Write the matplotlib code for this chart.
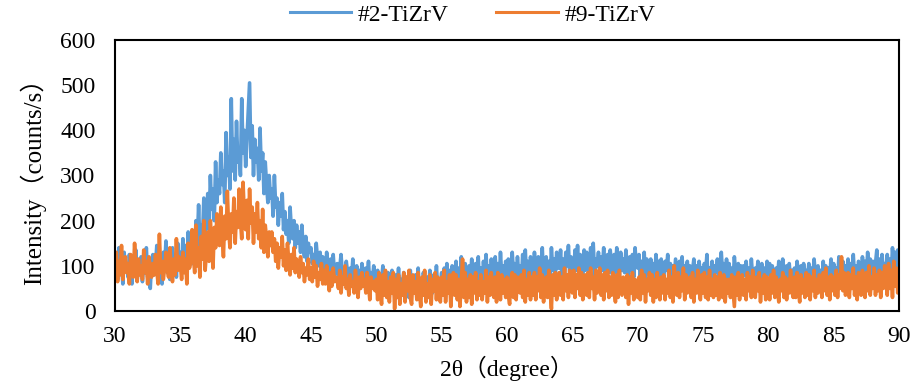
import numpy as np
import matplotlib
matplotlib.use("Agg")
import matplotlib.pyplot as plt
from matplotlib import font_manager

# 2-theta grid (0.1 degree step, 30..90)
two_theta_start = 30.0
two_theta_step = 0.1

series_names = ["#2-TiZrV", "#9-TiZrV"]

intensity_2 = [
    95,120,70,140,85,110,60,130,90,105,
    75,125,95,60,115,80,135,70,100,90,
    120,65,105,85,140,75,95,50,110,125,
    80,100,145,70,115,90,60,130,95,155,
    85,120,70,110,140,90,125,75,150,100,
    130,95,160,110,145,85,175,120,150,105,
    170,130,200,150,235,140,190,165,250,175,
    210,260,180,300,225,270,200,330,240,290,
    260,350,280,310,240,395,300,340,270,470,
    310,380,290,420,330,360,300,470,350,400,
    320,380,440,505,340,410,300,380,330,360,
    290,405,310,350,260,330,280,240,300,250,
    270,210,300,230,250,190,240,210,260,180,
    220,170,200,150,230,180,160,200,140,190,
    150,175,130,190,140,120,165,110,150,130,
    140,105,125,95,150,115,100,130,90,120,
    110,85,130,95,75,115,90,125,80,100,
    105,70,95,125,80,90,60,110,85,75,
    95,70,115,80,60,100,75,90,55,105,
    80,60,95,70,110,55,85,65,100,75,
    60,90,45,80,65,100,50,75,35,85,
    70,45,90,60,35,80,55,95,40,70,
    55,85,40,75,60,30,90,50,70,45,
    80,55,95,45,70,35,85,60,40,75,
    50,90,65,40,80,55,100,45,70,60,
    85,40,95,55,105,50,90,35,100,60,
    75,110,50,95,60,120,70,45,105,80,
    60,100,70,115,50,95,105,65,120,55,
    95,60,110,75,125,60,100,50,115,70,
    85,120,65,105,55,130,75,100,60,110,
    75,115,85,60,130,80,105,65,120,80,
    100,65,125,85,135,70,110,55,120,90,
    80,130,95,65,120,100,80,140,70,110,
    120,80,110,65,140,90,115,75,130,95,
    95,135,75,115,70,130,100,145,80,120,
    105,65,135,90,145,75,125,95,70,135,
    90,130,100,75,140,95,150,80,115,100,
    130,75,120,90,140,65,110,125,85,135,
    100,70,125,85,140,105,75,130,90,115,
    85,135,95,65,120,90,125,75,140,100,
    95,125,70,110,85,130,65,115,90,80,
    115,80,105,65,125,90,110,60,115,80,
    75,110,90,125,60,105,80,100,70,115,
    90,65,110,80,120,60,100,85,110,70,
    100,60,90,115,75,100,55,110,80,95,
    70,105,85,125,60,95,80,110,60,100,
    85,115,70,100,130,80,105,65,115,75,
    105,70,95,65,120,85,70,105,80,100,
    65,100,80,110,70,95,55,115,75,90,
    95,70,110,80,60,105,75,95,65,110,
    80,105,65,100,75,50,95,70,110,80,
    70,115,85,60,100,75,105,65,90,70,
    95,65,110,80,70,100,55,105,75,90,
    75,105,60,95,70,115,80,65,100,75,
    90,65,110,75,100,60,95,80,115,70,
    105,75,95,65,120,85,70,110,80,100,
    80,115,70,105,85,125,75,100,65,110,
    100,70,120,85,110,75,130,90,115,80,
    110,80,105,135,75,115,90,125,85,105,
    90,125,85,115,75,140,95,130,80,135,
    115,
]

intensity_9 = [
    90,130,65,110,80,145,70,100,120,85,
    105,60,125,90,75,150,95,65,115,80,
    100,70,135,85,110,60,120,95,75,105,
    80,125,90,60,170,85,110,70,95,130,
    95,75,140,100,65,115,80,160,90,120,
    105,70,130,85,115,60,150,95,110,180,
    120,85,190,100,140,75,165,115,200,90,
    130,175,110,200,150,95,185,140,215,160,
    145,230,170,120,210,160,265,180,140,215,
    175,250,150,220,185,270,200,160,285,210,
    180,245,160,270,195,230,150,215,175,240,
    160,200,140,225,130,190,160,120,175,145,
    175,130,160,110,150,95,140,120,165,100,
    135,90,150,110,80,125,95,140,85,115,
    100,75,120,85,105,65,95,80,115,70,
    95,65,110,75,100,55,85,70,105,60,
    90,60,100,70,45,85,55,95,65,75,
    70,50,90,40,75,60,100,50,70,35,
    80,55,65,40,90,60,30,75,50,85,
    55,70,40,85,60,25,75,50,65,45,
    70,25,85,45,15,80,35,90,30,65,
    20,75,40,85,5,70,30,80,15,60,
    35,85,20,75,45,90,30,15,80,40,
    65,25,85,40,10,75,35,90,20,60,
    30,80,15,70,45,85,25,75,55,20,
    75,35,90,20,65,40,80,10,60,85,
    35,80,25,70,10,65,115,30,85,20,
    70,30,80,15,75,40,85,25,65,35,
    80,25,65,40,90,20,75,35,85,45,
    30,75,20,85,50,25,80,40,70,30,
    75,35,15,70,85,30,80,25,75,45,
    40,80,30,90,20,70,35,85,25,75,
    35,85,25,75,45,95,30,80,20,65,
    75,30,90,45,5,80,35,85,25,70,
    85,35,75,25,95,45,80,30,90,50,
    40,90,30,80,50,95,35,85,25,75,
    80,35,85,30,95,50,75,25,90,40,
    70,95,35,80,25,85,45,90,30,75,
    35,85,45,20,80,30,90,50,35,75,
    65,30,80,15,75,40,85,25,70,45,
    30,75,25,90,40,80,20,70,45,85,
    35,80,20,70,30,85,45,25,75,40,
    80,25,70,40,90,30,75,20,100,45,
    35,85,30,75,45,95,25,80,40,70,
    75,30,85,20,70,40,90,45,25,80,
    40,85,30,75,25,90,35,70,30,80,
    35,75,25,85,45,30,80,20,70,40,
    70,30,80,45,10,75,35,85,25,70,
    80,35,70,25,85,45,75,30,90,40,
    30,75,45,85,20,70,40,80,25,75,
    70,25,80,40,90,30,75,45,20,70,
    45,85,30,75,25,70,40,90,45,30,
    75,30,85,45,20,80,40,70,30,85,
    35,80,25,75,45,90,30,70,40,80,
    70,30,85,45,95,35,75,25,80,45,
    75,35,90,30,80,50,120,45,85,35,
    45,85,30,80,50,95,35,75,25,85,
    80,35,90,50,30,85,45,100,35,75,
    50,95,35,80,45,90,30,85,50,100,
    75,35,105,50,90,30,110,55,95,40,
    80,
]

x_ticks = [30, 35, 40, 45, 50, 55, 60, 65, 70, 75, 80, 85, 90]
y_ticks = [0, 100, 200, 300, 400, 500, 600]
x_label = "2θ（degree）"
y_label = "Intensity（counts/s）"

colors = ["#5B9BD5", "#ED7D31"]

available = {f.name for f in font_manager.fontManager.ttflist}
serif = next((n for n in ["Liberation Serif", "Times New Roman", "DejaVu Serif"] if n in available), "DejaVu Serif")
fam = [serif, "Noto Sans CJK SC", "DejaVu Sans"]
plt.rcParams["font.family"] = fam

FS = 17

two_theta = two_theta_start + two_theta_step * np.arange(len(intensity_2))

fig = plt.figure(figsize=(9.14, 3.92), dpi=100)
ax = fig.add_axes([0.1258, 0.2066, 0.8578, 0.6914])

for y, c, name in zip([intensity_2, intensity_9], colors, series_names):
    ax.plot(two_theta, y, color=c, lw=2.6, label=name, solid_joinstyle="round")

ax.set_xlim(30, 90)
ax.set_ylim(0, 600)
ax.set_xticks(x_ticks)
ax.set_yticks(y_ticks)
ax.tick_params(length=0, labelsize=FS)
ax.tick_params(axis="y", pad=14)
ax.tick_params(axis="x", pad=11)
for s in ax.spines.values():
    s.set_linewidth(1.5)
    s.set_color("black")

ax.set_xlabel(x_label, fontsize=FS, labelpad=6)
ax.set_ylabel(y_label, fontsize=18, labelpad=10)

leg = fig.legend(loc="center", bbox_to_anchor=(0.517, 0.962), ncol=2, frameon=False,
                 fontsize=FS, handlelength=2.6, columnspacing=2.0, handletextpad=0.3)
for line in leg.get_lines():
    line.set_linewidth(2.2)

fig.savefig("out.png", dpi=100)
